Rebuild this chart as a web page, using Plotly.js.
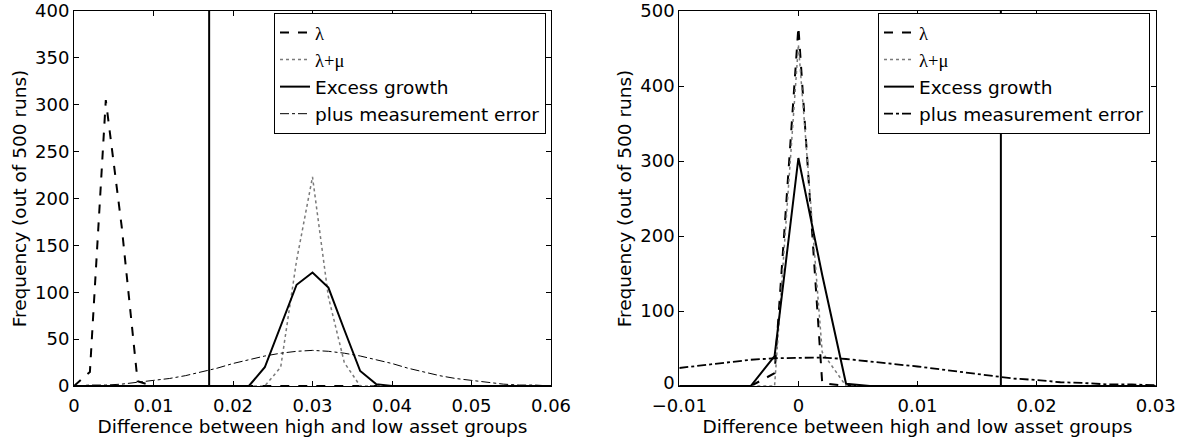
<!DOCTYPE html>
<html><head><meta charset="utf-8">
<script src="https://cdn.plot.ly/plotly-3.0.1.min.js"></script>
<style>html,body{margin:0;padding:0;background:#fff}</style>
</head><body><div id="chart" style="width:1195px;height:441px"></div>
<script>
// ---- Left panel data (bins of 0.002) ----
const xLeft = [0,0.002,0.004,0.006,0.008,0.010,0.012,0.014,0.016,0.018,0.020,0.022,0.024,0.026,0.028,0.030,0.032,0.034,0.036,0.038,0.040,0.042,0.044,0.046,0.048,0.050,0.052,0.054,0.056,0.058,0.060];
const lambdaLeft = [0,15,305,170,5,0,0,0,0,0,0,0,0,0,0,0,0,0,0,0,0,0,0,0,0,0,0,0,0,0,0];
const lambdaMuLeft = [0,0,0,0,0,0,0,0,0,0,0,0,0,20,134,223,95,25,0,0,0,0,0,0,0,0,0,0,0,0,0];
const excessLeft = [0,0,0,0,0,0,0,0,0,0,0,0,20,64,108,121,105,60,16,2,0,0,0,0,0,0,0,0,0,0,0];
const measErrLeft = [0,1,1,2,4,6,8,11,15,19,24,28,32,35,37,38,37,35,32,28,24,19,15,11,8,6,4,2,1,1,0];
const vlineLeftX = [0.017,0.017];
const vlineLeftY = [0,400];

// ---- Right panel data (bins of 0.002) ----
const xRight = [-0.010,-0.008,-0.006,-0.004,-0.002,0,0.002,0.004,0.006,0.008,0.010,0.012,0.014,0.016,0.018,0.020,0.022,0.024,0.026,0.028,0.030];
const lambdaRight = [0,0,0,0,17,479,4,0,0,0,0,0,0,0,0,0,0,0,0,0,0];
const lambdaMuRight = [0,0,0,0,0,455,45,0,0,0,0,0,0,0,0,0,0,0,0,0,0];
const excessRight = [0,0,0,0,40,304,148,3,0,0,0,0,0,0,0,0,0,0,0,0,0];
const measErrRight = [24,28,32,35,37,38,38,36,33,30,26,22,18,14,10,8,5,4,2,2,1];
const vlineRightX = [0.017,0.017];
const vlineRightY = [0,500];

const seriesNames = ['<span style="font-family:Liberation Serif">λ</span>',
                     '<span style="font-family:Liberation Serif">λ+μ</span>',
                     'Excess growth','plus measurement error'];

const FONT = 'DejaVu Sans';

function panel(x, l, lm, ex, me, vx, vy, xa, ya, leg, meW) {
  return [
    {x:x, y:l, name:seriesNames[0], mode:'lines', line:{color:'#000', width:2, dash:'dash'}, xaxis:xa, yaxis:ya, legend:leg, legendgroup:leg+'a'},
    {x:x, y:lm, name:seriesNames[1], mode:'lines', line:{color:'#7a7a7a', width:1.5, dash:'dot'}, xaxis:xa, yaxis:ya, legend:leg, legendgroup:leg+'b'},
    {x:x, y:ex, name:seriesNames[2], mode:'lines', line:{color:'#000', width:2}, xaxis:xa, yaxis:ya, legend:leg, legendgroup:leg+'c'},
    {x:x, y:me, name:seriesNames[3], mode:'lines', line:{color:'#000', width:meW, dash:'dashdot'}, xaxis:xa, yaxis:ya, legend:leg, legendgroup:leg+'d'},
    {x:vx, y:vy, mode:'lines', line:{color:'#000', width:2}, xaxis:xa, yaxis:ya, showlegend:false, hoverinfo:'skip'}
  ];
}

const data = [].concat(
  panel(xLeft, lambdaLeft, lambdaMuLeft, excessLeft, measErrLeft, vlineLeftX, vlineLeftY, 'x', 'y', 'legend', 1),
  panel(xRight, lambdaRight, lambdaMuRight, excessRight, measErrRight, vlineRightX, vlineRightY, 'x2', 'y2', 'legend2', 1.8)
);

const W = 1195, H = 441;
function xax(d0, d1, range, anchor, so) {
  return {domain:[d0/W, d1/W], range:range, dtick:0.01, tick0:0, anchor:anchor,
    ticks:'inside', ticklen:5, tickcolor:'#000', mirror:'ticks', showline:true, linecolor:'#000', linewidth:1,
    showgrid:false, zeroline:false, tickfont:{family:FONT, size:18, color:'#000'}, ticklabelstandoff:so,
    title:{text:'Difference between high and low asset groups', font:{family:FONT, size:18.5, color:'#000'}, standoff:1}};
}
function yax(range, dt, anchor) {
  return {domain:[55/H, 430/H], range:range, dtick:dt, tick0:0, anchor:anchor,
    ticks:'inside', ticklen:5, tickcolor:'#000', mirror:'ticks', showline:true, linecolor:'#000', linewidth:1,
    showgrid:false, zeroline:false, tickfont:{family:FONT, size:18, color:'#000'},
    title:{text:'Frequency (out of 500 runs)', font:{family:FONT, size:18.5, color:'#000'}, standoff:3}};
}
function leg(xr) {
  return {x:xr/W, xanchor:'right', y:428/H, yanchor:'top', bgcolor:'#fff', bordercolor:'#000', borderwidth:1,
    font:{family:FONT, size:18.5, color:'#000'}, itemwidth:30, tracegroupgap:0, traceorder:'normal'};
}

const layout = {
  width:W, height:H, margin:{l:0, r:0, t:0, b:0}, paper_bgcolor:'#fff', plot_bgcolor:'#fff',
  font:{family:FONT, color:'#000'}, showlegend:true,
  xaxis: xax(74, 551, [0, 0.06], 'y', 3),
  yaxis: yax([0, 400], 50, 'x'),
  xaxis2: xax(679.3, 1155.7, [-0.01, 0.03], 'y2', 3),
  yaxis2: yax([0, 500], 100, 'x2'),
  legend: leg(546),
  legend2: leg(1150)
};

Plotly.newPlot('chart', data, layout, {staticPlot:true, displayModeBar:false}).then(function(){
  // nudge the right panel's "0" y tick label up slightly so it clears the "−0.01" x tick label
  var labels = document.querySelectorAll('.yaxislayer-above .y2tick text');
  labels.forEach(function(t){ if (t.textContent === '0') { t.setAttribute('dy', '-3'); } });
});
</script></body></html>
